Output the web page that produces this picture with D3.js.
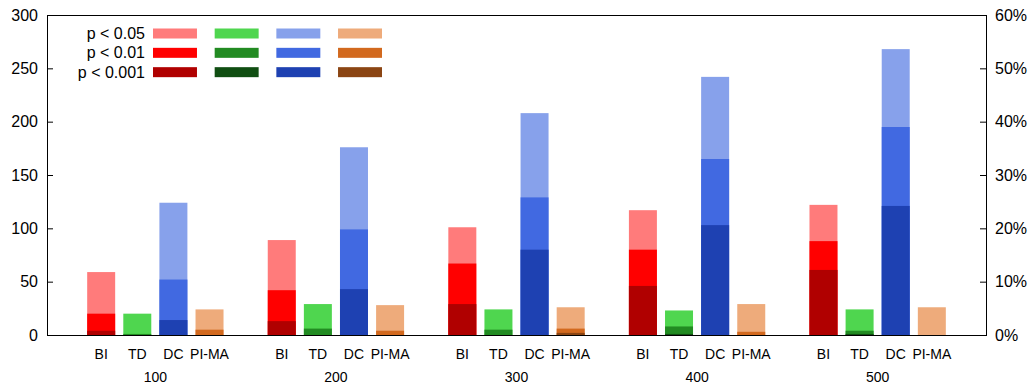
<!DOCTYPE html>
<html>
<head>
<meta charset="utf-8">
<script src="https://cdn.jsdelivr.net/npm/d3@7"></script>
<style>
  html, body { margin: 0; padding: 0; background: #fff; }
  svg { display: block; font-family: "Liberation Sans", Arial, Helvetica, sans-serif; }
</style>
</head>
<body>
<svg id="chart" width="1030" height="387"></svg>
<script>
// Sample sizes (groups) and methods (bars inside each group)
const groups = ["100", "200", "300", "400", "500"];
const methods = ["BI", "TD", "DC", "PI-MA"];
const levels = ["p < 0.05", "p < 0.01", "p < 0.001"];

// Number of significant results per method, one value per group
const biP05 = [59, 89, 101, 117, 122];
const biP01 = [20, 42, 67, 80, 88];
const biP001 = [4, 13, 29, 46, 61];

const tdP05 = [20, 29, 24, 23, 24];
const tdP01 = [1, 6, 5, 8, 4];
const tdP001 = [0, 0, 0, 1, 1];

const dcP05 = [124, 176, 208, 242, 268];
const dcP01 = [52, 99, 129, 165, 195];
const dcP001 = [14, 43, 80, 103, 121];

const pimaP05 = [24, 28, 26, 29, 26];
const pimaP01 = [5, 4, 6, 3, 0];
const pimaP001 = [0, 0, 2, 0, 0];

const yTicks = [0, 50, 100, 150, 200, 250, 300];
const pctTicks = [0, 10, 20, 30, 40, 50, 60];

// Colours: light / medium / dark shade per method
const palette = {
  "BI":    ["#ff7b7b", "#ff0000", "#b00000"],
  "TD":    ["#4fd64f", "#228b22", "#104e12"],
  "DC":    ["#87a1eb", "#4169e1", "#1e41b2"],
  "PI-MA": ["#eeab7b", "#d2691e", "#8b4513"]
};

const values = {
  "BI":    [biP05, biP01, biP001],
  "TD":    [tdP05, tdP01, tdP001],
  "DC":    [dcP05, dcP01, dcP001],
  "PI-MA": [pimaP05, pimaP01, pimaP001]
};

const svg = d3.select("#chart");
const plotLeft = 47, plotRight = 986, plotTop = 15, plotBottom = 335;
const slots = 26; // one leading slot, then 5 slots per group
const slot = (plotRight - plotLeft) / slots;

const y = d3.scaleLinear().domain([0, 300]).range([plotBottom, plotTop]);
const yPct = d3.scaleLinear().domain([0, 60]).range([plotBottom, plotTop]);

const xGroup = d3.scaleBand().domain(groups).range([plotLeft + slot, plotRight]).paddingInner(0).paddingOuter(0);
const xMethod = d3.scaleBand().domain(methods).range([0, 4 * slot]).paddingInner(0.225).paddingOuter(0.1125);

// Bars: full p<0.05 height, then p<0.01 and p<0.001 drawn on top
const barLayer = svg.append("g");
groups.forEach((g, gi) => {
  methods.forEach(m => {
    levels.forEach((lv, li) => {
      const v = values[m][li][gi];
      if (v <= 0) return;
      barLayer.append("rect")
        .attr("x", xGroup(g) + xMethod(m))
        .attr("width", xMethod.bandwidth())
        .attr("y", y(v))
        .attr("height", y(0) - y(v))
        .attr("fill", palette[m][li]);
    });
  });
});

// Frame
svg.append("rect")
  .attr("x", plotLeft + 0.5).attr("y", plotTop + 0.5)
  .attr("width", plotRight - plotLeft).attr("height", plotBottom - plotTop)
  .attr("fill", "none").attr("stroke", "#000").attr("stroke-width", 1);

// Left axis (ticks point inward)
const yAxis = d3.axisLeft(y).tickValues(yTicks).tickSize(-6).tickPadding(9);
svg.append("g").attr("transform", `translate(${plotLeft},0)`).call(yAxis)
  .call(a => a.select(".domain").remove())
  .call(a => a.selectAll("text").attr("font-size", 16).attr("fill", "#000").attr("font-family", null));

// Right axis in percent
const pAxis = d3.axisRight(yPct).tickValues(pctTicks).tickSize(-6).tickPadding(9).tickFormat(d => d + "%");
svg.append("g").attr("transform", `translate(${plotRight},0)`).call(pAxis)
  .call(a => a.select(".domain").remove())
  .call(a => a.selectAll("text").attr("font-size", 16).attr("fill", "#000").attr("font-family", null));

// Method labels under bars and group labels
groups.forEach(g => {
  methods.forEach(m => {
    svg.append("text")
      .attr("x", xGroup(g) + xMethod(m) + xMethod.bandwidth() / 2)
      .attr("y", 359)
      .attr("text-anchor", "middle")
      .attr("font-size", 14)
      .text(m);
  });
  svg.append("text")
    .attr("x", xGroup(g) + 2 * slot)
    .attr("y", 381.5)
    .attr("text-anchor", "middle")
    .attr("font-size", 14)
    .text(g);
});

// Legend: one row per significance level, one swatch per method
const legend = svg.append("g");
const legY = d3.scaleBand().domain(levels).range([28.5, 86.5]).paddingInner(0);
const legX = d3.scaleBand().domain(methods).range([153, 382]).paddingInner(0.287).paddingOuter(0);
levels.forEach((lv, li) => {
  legend.append("text")
    .attr("x", 145)
    .attr("y", legY(lv) + 10.5)
    .attr("text-anchor", "end")
    .attr("font-size", 16)
    .text(lv);
  methods.forEach(m => {
    legend.append("rect")
      .attr("x", legX(m))
      .attr("y", legY(lv))
      .attr("width", legX.bandwidth())
      .attr("height", 10)
      .attr("fill", palette[m][li]);
  });
});
</script>
</body>
</html>
